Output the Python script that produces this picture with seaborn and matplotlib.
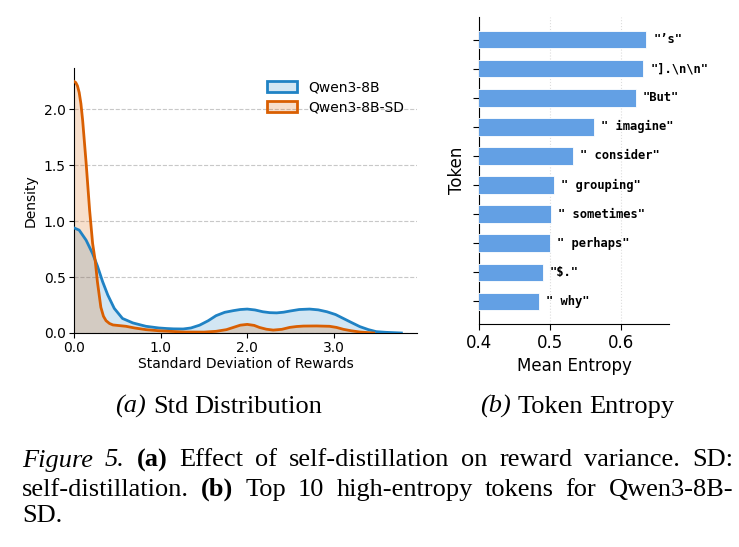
import numpy as np
import pandas as pd
import matplotlib
matplotlib.use("Agg")
import matplotlib.pyplot as plt
from matplotlib.patches import Patch
import seaborn as sns

# ---- data ----
# (a) density of reward std (curves)
sd_x_base = [0.00, 0.06, 0.14, 0.215, 0.27, 0.33, 0.39, 0.465, 0.56, 0.68, 0.83, 0.98,
             1.07, 1.15, 1.26, 1.35, 1.45, 1.55, 1.64, 1.74, 1.84, 1.92, 2.00, 2.09,
             2.18, 2.26, 2.34, 2.42, 2.49, 2.60, 2.72, 2.82, 2.92, 3.02, 3.11, 3.20,
             3.30, 3.40, 3.49, 3.60, 3.78]
dens_base = [0.94, 0.92, 0.83, 0.71, 0.60, 0.46, 0.34, 0.22, 0.13, 0.09, 0.06, 0.045,
             0.04, 0.037, 0.036, 0.045, 0.07, 0.11, 0.155, 0.185, 0.20, 0.21, 0.214, 0.206,
             0.19, 0.182, 0.18, 0.186, 0.196, 0.21, 0.214, 0.207, 0.19, 0.165, 0.13, 0.095,
             0.057, 0.03, 0.012, 0.006, 0.0]

sd_x_sd = [0.00, 0.02, 0.04, 0.06, 0.08, 0.10, 0.14, 0.18, 0.215, 0.246, 0.27, 0.31,
           0.34, 0.37, 0.41, 0.45, 0.60, 0.70, 0.83, 0.98, 1.26, 1.50, 1.64, 1.76,
           1.84, 1.92, 2.00, 2.08, 2.14, 2.22, 2.30, 2.40, 2.49, 2.57, 2.65, 2.80,
           2.95, 3.03, 3.11, 3.20, 3.30, 3.46]
dens_sd = [2.25, 2.24, 2.21, 2.15, 2.05, 1.90, 1.52, 1.10, 0.80, 0.64, 0.46, 0.23,
           0.15, 0.11, 0.085, 0.072, 0.06, 0.045, 0.03, 0.02, 0.009, 0.008, 0.015, 0.03,
           0.05, 0.07, 0.077, 0.068, 0.05, 0.034, 0.026, 0.033, 0.05, 0.058, 0.062, 0.063,
           0.06, 0.05, 0.033, 0.02, 0.009, 0.0]

# (b) top-10 high-entropy tokens
tokens = ['"\u2019s"', '"].\\n\\n"', '"But"', '" imagine"', '" consider"',
          '" grouping"', '" sometimes"', '" perhaps"', '"$."', '" why"']
entropy = [0.636, 0.632, 0.621, 0.562, 0.532, 0.506, 0.501, 0.500, 0.490, 0.485]

C_BASE = "#1f82c4"
C_SD = "#d95f02"
C_BAR = "#63a0e4"

W, H = 739, 547
fig = plt.figure(figsize=(W / 100, H / 100), dpi=100)

# ---------------- (a) Std Distribution ----------------
ax1 = fig.add_axes([74 / W, 1 - 333 / H, (417 - 74) / W, (333 - 68) / H])
for xs, ys, col in [(sd_x_base, dens_base, C_BASE), (sd_x_sd, dens_sd, C_SD)]:
    df = pd.DataFrame({"x": xs, "y": ys})
    sns.lineplot(data=df, x="x", y="y", color=col, lw=2, ax=ax1, zorder=3)
    ax1.fill_between(xs, ys, 0, color=col, alpha=0.2, lw=0, zorder=2)

ax1.set_xlim(0, 3.96)
ax1.set_ylim(0, 2.37)
ax1.set_xticks([0, 1, 2, 3])
ax1.set_xticklabels(["0.0", "1.0", "2.0", "3.0"])
ax1.set_yticks([0, 0.5, 1.0, 1.5, 2.0])
ax1.set_yticklabels(["0.0", "0.5", "1.0", "1.5", "2.0"])
ax1.tick_params(labelsize=10, length=3.5, width=0.8, pad=2.5)
ax1.yaxis.grid(True, linestyle="--", color="#c8c8c8", lw=0.8)
ax1.set_axisbelow(True)
ax1.set_xlabel("Standard Deviation of Rewards", fontsize=10, labelpad=1.5)
ax1.set_ylabel("Density", fontsize=10)
sns.despine(ax=ax1)
handles = [Patch(facecolor=matplotlib.colors.to_rgba(C_BASE, 0.2), edgecolor=C_BASE, lw=2),
           Patch(facecolor=matplotlib.colors.to_rgba(C_SD, 0.2), edgecolor=C_SD, lw=2)]
ax1.legend(handles, ["Qwen3-8B", "Qwen3-8B-SD"], loc="upper right", frameon=False,
           fontsize=10, handlelength=2.2, handleheight=0.85, labelspacing=0.4)

# ---------------- (b) Token Entropy ----------------
ax2 = fig.add_axes([479 / W, 1 - 324 / H, (669 - 479) / W, (324 - 17) / H])
tok_df = pd.DataFrame({"token": tokens, "entropy": entropy})
sns.barplot(data=tok_df, x="entropy", y="token", orient="h", color=C_BAR, saturation=1,
            width=0.6, edgecolor="white", linewidth=0.6, ax=ax2, zorder=3)
for i, (t, v) in enumerate(zip(tokens, entropy)):
    ax2.text(v + 0.01, i, t, va="center", ha="left", fontsize=8.7,
             family="DejaVu Sans Mono", fontweight="bold")
ax2.set_xlim(0.4, 0.668)
ax2.set_ylim(9.78, -0.78)
ax2.set_xticks([0.4, 0.5, 0.6])
ax2.set_xticklabels(["0.4", "0.5", "0.6"])
ax2.set_yticklabels([])
ax2.tick_params(labelsize=12, length=4, width=0.8)
ax2.xaxis.grid(True, linestyle=":", color="#dddddd", lw=0.8)
ax2.set_axisbelow(True)
ax2.set_xlabel("Mean Entropy", fontsize=12, labelpad=3)
ax2.set_ylabel("Token", fontsize=12, labelpad=2)
sns.despine(ax=ax2)

# ---------------- captions ----------------
renderer = fig.canvas.get_renderer()
SERIF = "Liberation Serif"
CAP = 19


def place_words(words, y, x0, x1=None, center=None, size=CAP, gap=None):
    arts = []
    for w, kw in words:
        t = fig.text(0, 1 - y / H, w, fontsize=size, family=SERIF, va="baseline", **kw)
        arts.append(t)
    widths = [a.get_window_extent(renderer).width for a in arts]
    space = size * 100 / 72 * 0.25
    if gap is None:
        if x1 is not None and len(arts) > 1:
            gap = (x1 - x0 - sum(widths)) / (len(arts) - 1)
        else:
            gap = space
    if center is not None:
        x0 = center - (sum(widths) + gap * (len(arts) - 1)) / 2
    x = x0
    for a, w in zip(arts, widths):
        a.set_x(x / W)
        x += w + gap


IT = {"style": "italic"}
BF = {"fontweight": "bold"}
N = {}

place_words([("(a)", IT), ("Std", N), ("Distribution", N)], 413, 0, center=219)
place_words([("(b)", IT), ("Token", N), ("Entropy", N)], 413, 0, center=577)

line1 = [("Figure", IT), ("5.", IT), ("(a)", BF)] + \
    [(w, N) for w in "Effect of self-distillation on reward variance. SD:".split()]
line2 = [("self-distillation.", N), ("(b)", BF)] + \
    [(w, N) for w in "Top 10 high-entropy tokens for Qwen3-8B-".split()]
place_words(line1, 466.5, 22, 733)
place_words(line2, 496, 22, 733)
place_words([("SD.", N)], 522, 22)

fig.savefig("out.png", dpi=100)
